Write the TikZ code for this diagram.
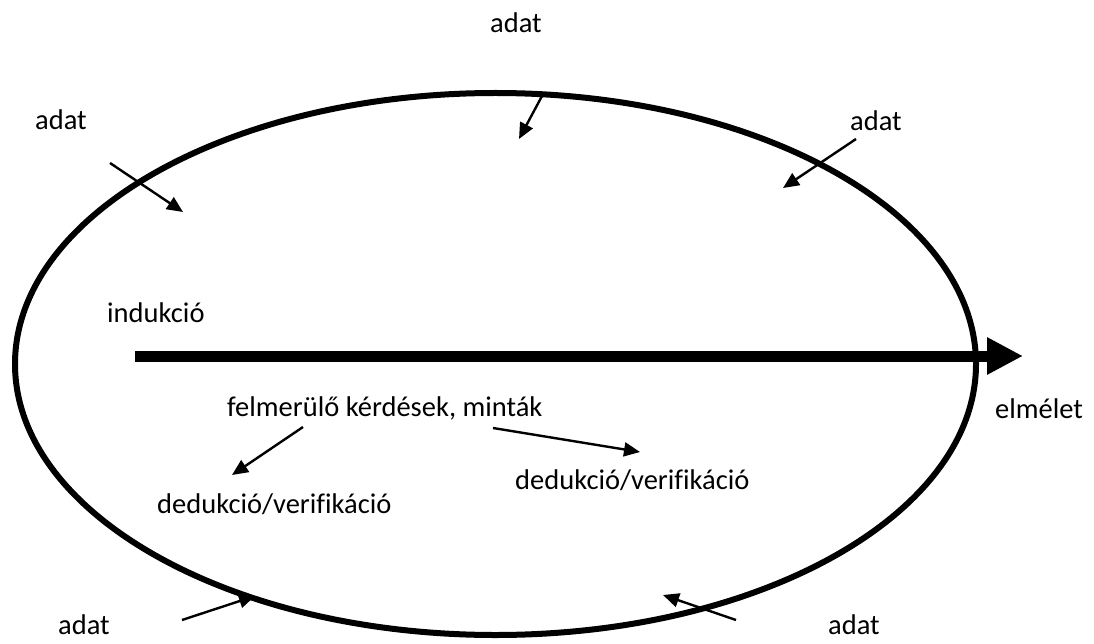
\documentclass[tikz,border=0pt]{standalone}
\usepackage{fontspec}
\setmainfont{Carlito}[Ligatures=NoCommon]
\usetikzlibrary{arrows.meta}
\begin{document}
\begin{tikzpicture}[x=1pt,y=-1pt,
  lbl/.style={anchor=base west,inner sep=0pt,font=\fontsize{28.5}{32}\selectfont},
  small/.style={line width=2.4pt,-{Triangle[length=16pt,width=14pt]}},
  ring/.style={line width=6pt},
  main/.style={line width=11pt,-{Triangle[length=36pt,width=35pt]}}]
\useasboundingbox (0,0) rectangle (1094,644);
\draw[ring] (495.5,364) ellipse [x radius=480.5,y radius=271];
% labels
\node[lbl] (atop) at (490,33) {adat};
\node[lbl] (atl) at (35,130) {adat};
\node[lbl] (atr) at (850,131) {adat};
\node[lbl] (elm) at (995,418) {elmélet};
\node[lbl] (abl) at (58,634) {adat};
\node[lbl] (abr) at (828,634) {adat};
\node[lbl] (ind) at (107,322) {indukció};
\node[lbl] (felm) at (227,416) {felmerülő kérdések, minták};
\node[lbl] (dedl) at (157,513) {dedukció/verifikáció};
\node[lbl] (dedr) at (515,489) {dedukció/verifikáció};
% arrow endpoints
\coordinate (s1) at (110,163); \coordinate (t1) at (183,212);
\coordinate (s2) at (542,96);  \coordinate (t2) at (519,139);
\coordinate (s3) at (856,139); \coordinate (t3) at (783,188);
\coordinate (s4) at (182,620); \coordinate (t4) at (255,596);
\coordinate (s5) at (736,620); \coordinate (t5) at (663,595);
\coordinate (s6) at (303,427); \coordinate (t6) at (232,475);
\coordinate (s7) at (493,428); \coordinate (t7) at (640,452);
\coordinate (ms) at (135,356); \coordinate (mt) at (1023,356);
\draw[main] (ms) -- (mt);
\foreach \i in {1,...,7} \draw[small] (s\i) -- (t\i);
\end{tikzpicture}
\end{document}
